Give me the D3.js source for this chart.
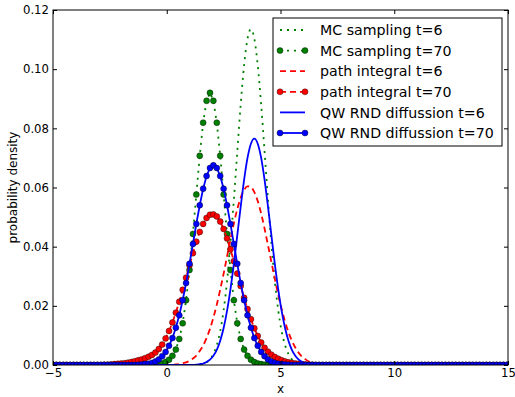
<!DOCTYPE html>
<html>
<head>
<meta charset="utf-8">
<script src="https://cdn.jsdelivr.net/npm/d3@7"></script>
<style>
  body { margin: 0; background: #fff; }
  text { font-family: "DejaVu Sans", sans-serif; fill: #000; }
</style>
</head>
<body>
<div id="chart"></div>
<script>
// lattice the densities were sampled on: x = -5 + 0.15 * i, i = 0..133
const xStart = -5, xStep = 0.15, nSamples = 134

// MC sampling t=6
const mc6 = [
  0,0,0,0,0,0,0,0,0,0,
  0,0,0,0,0,0,0,0,0,0,
  0,0,0,0,0,0,0,0,0,0,
  0,0,0,0,0,0,0,0,0,0,
  0,0,.0001,.0002,.0004,.0009,.0019,.0037,.0067,.0114,
  .0185,.0283,.0409,.0559,.0721,.088,.1013,.1103,.1135,.1103,
  .1013,.088,.0721,.0559,.0409,.0283,.0185,.0114,.0067,.0037,
  .0019,.0009,.0004,.0002,.0001,0,0,0,0,0,
  0,0,0,0,0,0,0,0,0,0,
  0,0,0,0,0,0,0,0,0,0,
  0,0,0,0,0,0,0,0,0,0,
  0,0,0,0,0,0,0,0,0,0,
  0,0,0,0,0,0,0,0,0,0,
  0,0,0,0
]
// MC sampling t=70
const mc70 = [
  0,0,0,0,0,0,0,0,0,0,
  0,0,0,0,0,0,0,0,0,0,
  0,0,0,0,0,0,0,0,0,0,
  .0001,.0003,.0005,.001,.0018,.0031,.0052,.0088,.0141,.0219,
  .0321,.0443,.0576,.0707,.0819,.0893,.092,.0893,.0819,.0707,
  .0576,.0443,.0321,.0219,.0141,.0088,.0052,.0031,.0018,.001,
  .0005,.0003,.0001,0,0,0,0,0,0,0,
  0,0,0,0,0,0,0,0,0,0,
  0,0,0,0,0,0,0,0,0,0,
  0,0,0,0,0,0,0,0,0,0,
  0,0,0,0,0,0,0,0,0,0,
  0,0,0,0,0,0,0,0,0,0,
  0,0,0,0,0,0,0,0,0,0,
  0,0,0,0
]
// path integral t=6
const pi6 = [
  0,0,0,0,0,0,0,0,0,0,
  0,0,0,0,0,0,0,0,0,0,
  0,0,0,0,0,0,0,0,0,0,
  0,0,0,0,0,0,.0002,.0003,.0006,.0009,
  .0014,.0022,.0032,.0047,.0066,.0091,.0122,.016,.0204,.0255,
  .0309,.0367,.0424,.0479,.0527,.0565,.0592,.0604,.0602,.0584,
  .0554,.0512,.0461,.0405,.0348,.0291,.0237,.0189,.0147,.0111,
  .0082,.0059,.0041,.0028,.0019,.0012,.0008,.0005,.0003,.0002,
  0,0,0,0,0,0,0,0,0,0,
  0,0,0,0,0,0,0,0,0,0,
  0,0,0,0,0,0,0,0,0,0,
  0,0,0,0,0,0,0,0,0,0,
  0,0,0,0,0,0,0,0,0,0,
  0,0,0,0
]
// path integral t=70
const pi70 = [
  0,0,0,0,0,0,0,0,0,0,
  0,0,0,0,0,.0001,.0001,.0002,.0003,.0004,
  .0005,.0006,.0008,.001,.0013,.0016,.0019,.0023,.0028,.0034,
  .0042,.0054,.0069,.009,.0115,.0144,.0177,.0214,.0254,.0295,
  .0337,.0378,.0417,.045,.0477,.0497,.0508,.0509,.0502,.0485,
  .046,.0428,.0391,.0351,.0309,.0267,.0227,.0189,.0155,.0124,
  .0098,.0076,.0058,.0045,.0035,.0027,.0021,.0016,.0012,.0009,
  .0007,.0005,.0004,.0003,.0002,.0001,.0001,0,0,0,
  0,0,0,0,0,0,0,0,0,0,
  0,0,0,0,0,0,0,0,0,0,
  0,0,0,0,0,0,0,0,0,0,
  0,0,0,0,0,0,0,0,0,0,
  0,0,0,0,0,0,0,0,0,0,
  0,0,0,0
]
// QW RND diffussion t=6
const qw6 = [
  0,0,0,0,0,0,0,0,0,0,
  0,0,0,0,0,0,0,0,0,0,
  0,0,0,0,0,0,0,0,0,0,
  0,0,0,0,0,0,0,0,0,0,
  0,0,.0001,.0003,.0005,.001,.0018,.0031,.0051,.0082,
  .0125,.0183,.0256,.0342,.0438,.0535,.0626,.07,.0748,.0765,
  .0748,.07,.0626,.0535,.0438,.0342,.0256,.0183,.0125,.0082,
  .0051,.0031,.0018,.001,.0005,.0003,.0001,0,0,0,
  0,0,0,0,0,0,0,0,0,0,
  0,0,0,0,0,0,0,0,0,0,
  0,0,0,0,0,0,0,0,0,0,
  0,0,0,0,0,0,0,0,0,0,
  0,0,0,0,0,0,0,0,0,0,
  0,0,0,0
]
// QW RND diffussion t=70
const qw70 = [
  0,0,0,0,0,0,0,0,0,0,
  0,0,0,0,0,0,0,0,0,0,
  0,0,0,0,0,.0001,.0002,.0003,.0004,.0007,
  .0012,.0019,.003,.0044,.0065,.0091,.0126,.0168,.0219,.0277,
  .0342,.0409,.0477,.054,.0596,.0639,.0666,.0675,.0666,.0639,
  .0596,.054,.0477,.0409,.0342,.0277,.0219,.0168,.0126,.0091,
  .0065,.0044,.003,.0019,.0012,.0007,.0004,.0003,.0002,.0001,
  0,0,0,0,0,0,0,0,0,0,
  0,0,0,0,0,0,0,0,0,0,
  0,0,0,0,0,0,0,0,0,0,
  0,0,0,0,0,0,0,0,0,0,
  0,0,0,0,0,0,0,0,0,0,
  0,0,0,0,0,0,0,0,0,0,
  0,0,0,0
]

const labels = ['MC sampling t=6', 'MC sampling t=70', 'path integral t=6',
  'path integral t=70', 'QW RND diffussion t=6', 'QW RND diffussion t=70']
const xTicks = [-5, 0, 5, 10, 15]
const yTicks = [0, 0.02, 0.04, 0.06, 0.08, 0.10, 0.12]

const xs = d3.range(nSamples).map(i => xStart + xStep * i)

// drawing order follows the legend
const series = [
  { values: mc6, color: '#008000', dash: '2,5', marker: false },
  { values: mc70, color: '#008000', dash: '2,5', marker: true },
  { values: pi6, color: '#ff0000', dash: '6,4', marker: false },
  { values: pi70, color: '#ff0000', dash: '6,4', marker: true },
  { values: qw6, color: '#0000ff', dash: null, marker: false },
  { values: qw70, color: '#0000ff', dash: null, marker: true },
].map((s, i) => ({ ...s, label: labels[i] }))

const width = 515, height = 397
const margin = { top: 10, right: 7, bottom: 32, left: 53 }

const svg = d3.select('#chart').append('svg')
  .attr('width', width)
  .attr('height', height)

const x = d3.scaleLinear().domain([-5, 15]).range([margin.left, width - margin.right])
const y = d3.scaleLinear().domain([0, 0.12]).range([height - margin.bottom, margin.top])

svg.append('defs').append('clipPath').attr('id', 'plot-clip')
  .append('rect')
  .attr('x', x.range()[0]).attr('y', y.range()[1])
  .attr('width', x.range()[1] - x.range()[0])
  .attr('height', y.range()[0] - y.range()[1])

// curves
const plot = svg.append('g').attr('clip-path', 'url(#plot-clip)')

series.forEach(s => {
  const line = d3.line()
    .x((d, i) => x(xs[i]))
    .y(d => y(d))
    .curve(s.marker ? d3.curveLinear : d3.curveMonotoneX)

  plot.append('path')
    .datum(s.values)
    .attr('d', line)
    .attr('fill', 'none')
    .attr('stroke', s.color)
    .attr('stroke-width', 1.8)
    .attr('stroke-dasharray', s.dash)

  if (s.marker) {
    plot.append('g').selectAll('circle')
      .data(s.values)
      .join('circle')
      .attr('cx', (d, i) => x(xs[i]))
      .attr('cy', d => y(d))
      .attr('r', 3)
      .attr('fill', s.color)
      .attr('stroke', '#000')
      .attr('stroke-width', 0.4)
  }
})

// axes, ticks pointing inward on all four sides
const fontSize = 11.7
const styleAxis = g => {
  g.select('.domain').remove()
  g.attr('font-family', 'DejaVu Sans').attr('font-size', fontSize)
}

svg.append('g')
  .attr('transform', `translate(0,${y.range()[0]})`)
  .call(d3.axisBottom(x).tickValues(xTicks).tickSizeInner(-4).tickSizeOuter(0).tickPadding(4))
  .call(styleAxis)

svg.append('g')
  .attr('transform', `translate(0,${y.range()[1]})`)
  .call(d3.axisTop(x).tickValues(xTicks).tickSizeInner(-4).tickSizeOuter(0).tickFormat(() => ''))
  .call(styleAxis)

svg.append('g')
  .attr('transform', `translate(${x.range()[0]},0)`)
  .call(d3.axisLeft(y).tickValues(yTicks).tickSizeInner(-4).tickSizeOuter(0).tickPadding(4)
    .tickFormat(d3.format('.2f')))
  .call(styleAxis)

svg.append('g')
  .attr('transform', `translate(${x.range()[1]},0)`)
  .call(d3.axisRight(y).tickValues(yTicks).tickSizeInner(-4).tickSizeOuter(0).tickFormat(() => ''))
  .call(styleAxis)

svg.append('rect')
  .attr('x', x.range()[0]).attr('y', y.range()[1])
  .attr('width', x.range()[1] - x.range()[0])
  .attr('height', y.range()[0] - y.range()[1])
  .attr('fill', 'none')
  .attr('stroke', '#000')
  .attr('stroke-width', 1)

svg.append('text')
  .attr('x', (x.range()[0] + x.range()[1]) / 2)
  .attr('y', height - 4)
  .attr('text-anchor', 'middle')
  .style('font-size', '12px')
  .text('x')

svg.append('text')
  .attr('transform', `translate(17,${(y.range()[0] + y.range()[1]) / 2}) rotate(-90)`)
  .attr('text-anchor', 'middle')
  .style('font-size', '12px')
  .text('probability density')

// legend
const legend = svg.append('g').attr('transform', 'translate(273,18)')
legend.append('rect')
  .attr('width', 229).attr('height', 128)
  .attr('fill', '#fff')
  .attr('stroke', '#000')
  .attr('stroke-width', 1)

const rowH = 20.6
const items = legend.selectAll('g.item')
  .data(series)
  .join('g')
  .attr('class', 'item')
  .attr('transform', (d, i) => `translate(0,${12 + i * rowH})`)

items.append('line')
  .attr('x1', 7).attr('x2', 32)
  .attr('stroke', d => d.color)
  .attr('stroke-width', 1.8)
  .attr('stroke-dasharray', d => d.dash)

items.filter(d => d.marker).selectAll('circle')
  .data(d => [7, 32].map(cx => ({ cx, color: d.color })))
  .join('circle')
  .attr('cx', d => d.cx)
  .attr('r', 3)
  .attr('fill', d => d.color)
  .attr('stroke', '#000')
  .attr('stroke-width', 0.4)

items.append('text')
  .attr('x', 47)
  .attr('dy', '0.36em')
  .style('font-size', '14.2px')
  .text(d => d.label)
</script>
</body>
</html>
